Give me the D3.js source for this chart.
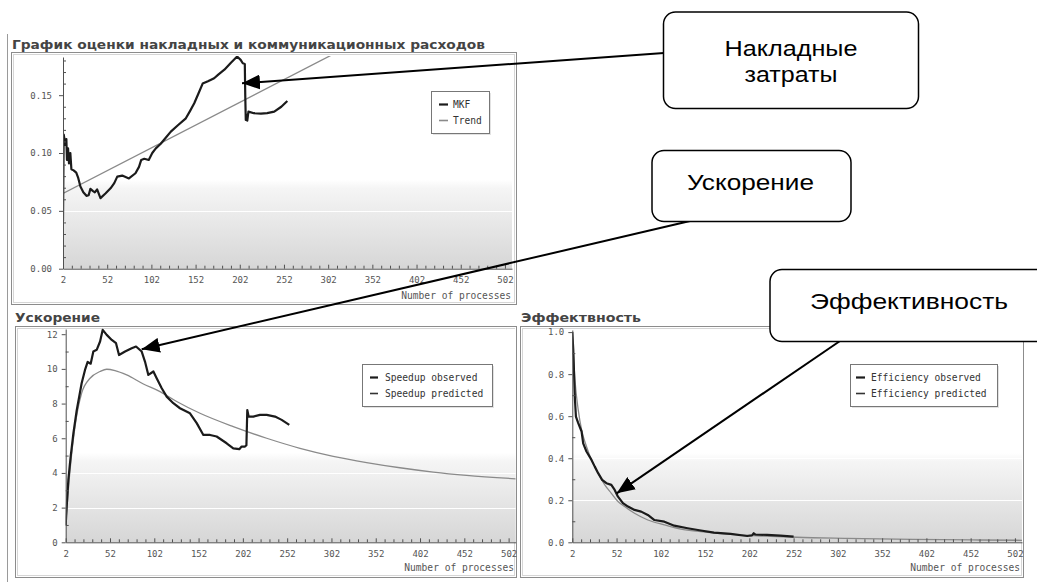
<!DOCTYPE html>
<html>
<head>
<meta charset="utf-8">
<script src="https://cdn.jsdelivr.net/npm/d3@7"></script>
<style>
  html, body { margin: 0; padding: 0; background: #fff; }
  svg { display: block; }
</style>
</head>
<body>
<script>
// ---------------- DATA ----------------
const xTickValues = [2, 52, 102, 152, 202, 252, 302, 352, 402, 452, 502];
const xLabel = "Number of processes";

// Chart 1: overhead estimate (MKF) + trend
const overheadTitle = "График оценки накладных и коммуникационных расходов";
const overheadTicks = [0, 0.05, 0.10, 0.15];
const mkfX = [2, 2.8, 4.7, 5.8, 6.5, 7.7, 8.8, 10.3, 11.5, 14, 17, 19, 21.7, 25, 28.5, 31, 33, 36, 38, 40.6, 44.4, 50, 55.8, 60, 63.4, 69, 76.6, 84, 88, 90.5, 94, 99, 103, 107, 112.6, 118, 124, 132, 141, 145.5, 150.5, 155, 160, 166, 173, 178, 184.6, 192, 199, 203, 205.4, 207.7, 208.2, 208.8, 209.8, 210.5, 211.8, 218, 226, 233, 241, 249, 255.8];
const mkfY = [0.041, 0.116, 0.107, 0.112, 0.094, 0.104, 0.091, 0.100, 0.086, 0.085, 0.083, 0.079, 0.071, 0.066, 0.063, 0.0635, 0.069, 0.067, 0.066, 0.0686, 0.061, 0.065, 0.0695, 0.074, 0.0796, 0.0805, 0.078, 0.0825, 0.088, 0.094, 0.095, 0.094, 0.100, 0.104, 0.108, 0.113, 0.1185, 0.124, 0.130, 0.136, 0.143, 0.151, 0.160, 0.162, 0.1646, 0.168, 0.172, 0.178, 0.1834, 0.1805, 0.1776, 0.177, 0.150, 0.1286, 0.133, 0.128, 0.1358, 0.1344, 0.134, 0.1345, 0.1358, 0.140, 0.145];
const trendX = [2, 502];
const trendY = [0.065, 0.262];
const overheadLegend = ["MKF", "Trend"];

// Chart 2: speedup
const speedupTitle = "Ускорение";
const speedupTicks = [0, 2, 4, 6, 8, 10, 12];
const spObsX = [2, 3.1, 5, 7.6, 10.7, 14.4, 20, 23.8, 26.8, 30.2, 33.2, 37, 40.8, 43.8, 48.3, 54, 58.8, 62.2, 69, 76.5, 81.4, 87.8, 91.5, 95.3, 101, 104.7, 110.4, 116, 123.5, 131, 142.3, 149.9, 157.4, 165, 172.4, 183.7, 191.2, 198, 200.6, 204.4, 206, 207, 208.5, 213.8, 221.3, 228.9, 238.3, 245.8, 254.4];
const spObsY = [1.0, 2.06, 3.6, 4.94, 6.3, 7.6, 9.17, 9.94, 10.4, 10.3, 11.0, 11.1, 11.58, 12.25, 11.96, 11.67, 11.48, 10.8, 11.0, 11.19, 11.29, 11.0, 10.42, 9.65, 9.85, 9.46, 8.88, 8.4, 8.02, 7.73, 7.44, 6.87, 6.19, 6.19, 6.1, 5.71, 5.42, 5.37, 5.52, 5.52, 5.6, 7.63, 7.25, 7.25, 7.35, 7.35, 7.25, 7.06, 6.77];
const spPredX = [2, 6.9, 12.5, 20, 29.5, 40.8, 48.3, 57.7, 70.8, 89.7, 108.5, 127.3, 153.6, 191.2, 228.9, 266.5, 304, 341.7, 379.3, 417, 454.6, 510];
const spPredY = [1.0, 4.17, 6.67, 8.6, 9.46, 9.85, 9.98, 9.9, 9.65, 9.13, 8.69, 8.12, 7.44, 6.67, 6.0, 5.42, 4.96, 4.6, 4.3, 4.05, 3.86, 3.66];
const speedupLegend = ["Speedup observed", "Speedup predicted"];

// Chart 3: efficiency
const efficiencyTitle = "Эффектвность";
const efficiencyTicks = [0, 0.2, 0.4, 0.6, 0.8, 1.0];
const efObsX = [2, 3.1, 4.2, 5, 6.1, 8.7, 12.5, 14.3, 18, 23.7, 27.4, 31.2, 35.7, 40.5, 46.1, 49.9, 53.6, 59.2, 64.9, 72.3, 79.8, 87.3, 94.8, 106, 117.2, 132.2, 147.2, 162.1, 180.8, 199.5, 205, 207, 208.9, 222, 237, 252];
const efObsY = [1.0, 0.916, 0.773, 0.678, 0.598, 0.567, 0.527, 0.471, 0.432, 0.392, 0.36, 0.329, 0.297, 0.281, 0.273, 0.249, 0.217, 0.186, 0.170, 0.154, 0.146, 0.130, 0.106, 0.098, 0.079, 0.067, 0.056, 0.046, 0.040, 0.030, 0.033, 0.043, 0.037, 0.035, 0.032, 0.027];
const efPredX = [2, 5, 8.7, 12.5, 18, 23.7, 31.2, 38.7, 46.1, 53.6, 61.1, 72.3, 87.3, 106, 124.7, 147, 180.8, 218, 255.6, 311.8, 386.6, 461.4, 510];
const efPredY = [1.0, 0.773, 0.63, 0.535, 0.456, 0.392, 0.329, 0.273, 0.233, 0.194, 0.170, 0.138, 0.106, 0.083, 0.063, 0.051, 0.038, 0.030, 0.024, 0.019, 0.014, 0.011, 0.0095];
const efficiencyLegend = ["Efficiency observed", "Efficiency predicted"];

// Callouts
const calloutOverhead = ["Накладные", "затраты"];
const calloutSpeedup = ["Ускорение"];
const calloutEfficiency = ["Эффективность"];

// ---------------- DRAWING ----------------
const W = 1037, H = 582;
const svg = d3.select("body").append("svg").attr("width", W).attr("height", H)
  .style("font-family", "'DejaVu Sans Mono', monospace");
svg.append("rect").attr("width", W).attr("height", H).attr("fill", "#fff");

const defs = svg.append("defs");
const grad = defs.append("linearGradient").attr("id", "plotbg")
  .attr("x1", 0).attr("y1", 0).attr("x2", 0).attr("y2", 1);
grad.append("stop").attr("offset", "0").attr("stop-color", "#ffffff");
grad.append("stop").attr("offset", "0.58").attr("stop-color", "#ffffff");
grad.append("stop").attr("offset", "0.62").attr("stop-color", "#f5f5f5");
grad.append("stop").attr("offset", "1").attr("stop-color", "#d6d6d6");

const marker = defs.append("marker").attr("id", "arrowhead")
  .attr("markerUnits", "userSpaceOnUse")
  .attr("markerWidth", 19).attr("markerHeight", 15)
  .attr("refX", 18).attr("refY", 7.5).attr("orient", "auto");
marker.append("path").attr("d", "M0,0 L18,7.5 L0,15 Z").attr("fill", "#000");

// page left rule
svg.append("line").attr("x1", 7.5).attr("x2", 7.5).attr("y1", 34).attr("y2", 582)
  .attr("stroke", "#9a9a9a").attr("stroke-width", 1);

function pairs(xs, ys) { return xs.map((v, i) => [v, ys[i]]); }

function drawChart(cfg) {
  const g = svg.append("g");
  const f = cfg.frame;
  // title
  g.append("text").attr("x", cfg.titlePos[0]).attr("y", cfg.titlePos[1])
    .attr("font-family", "'DejaVu Sans', sans-serif").attr("font-weight", "bold")
    .attr("font-size", 13).attr("fill", "#444")
    .attr("textLength", cfg.titleWidth).attr("lengthAdjust", "spacingAndGlyphs")
    .text(cfg.title);
  // frame (double)
  g.append("rect").attr("x", f[0] + 0.5).attr("y", f[1] + 0.5).attr("width", f[2] - f[0]).attr("height", f[3] - f[1])
    .attr("fill", "#fff").attr("stroke", "#8c8c8c");
  g.append("rect").attr("x", f[0] + 2.5).attr("y", f[1] + 2.5).attr("width", f[2] - f[0] - 4).attr("height", f[3] - f[1] - 4)
    .attr("fill", "none").attr("stroke", "#d6d6d6");

  const x = d3.scaleLinear().domain([2, 510]).range(cfg.xRange);
  const y = d3.scaleLinear().domain(cfg.yDomain).range(cfg.yRange);

  // plot background
  g.append("rect").attr("x", cfg.xRange[0]).attr("y", cfg.yRange[1])
    .attr("width", cfg.xRange[1] - cfg.xRange[0]).attr("height", cfg.yRange[0] - cfg.yRange[1])
    .attr("fill", "url(#plotbg)");
  // white grid lines
  g.append("g").selectAll("line").data(cfg.yTicks.filter(d => d > 0)).join("line")
    .attr("x1", cfg.xRange[0]).attr("x2", cfg.xRange[1])
    .attr("y1", d => Math.round(y(d)) + 0.5).attr("y2", d => Math.round(y(d)) + 0.5)
    .attr("stroke", "#fff").attr("stroke-width", 1.2);

  // clip
  const clipId = "clip" + cfg.id;
  defs.append("clipPath").attr("id", clipId).append("rect")
    .attr("x", cfg.xRange[0]).attr("y", cfg.yRange[1] - 1)
    .attr("width", cfg.xRange[1] - cfg.xRange[0]).attr("height", cfg.yRange[0] - cfg.yRange[1] + 1);

  const line = d3.line().x(d => x(d[0])).y(d => y(d[1]));
  const smooth = d3.line().x(d => x(d[0])).y(d => y(d[1])).curve(d3.curveMonotoneX);
  const lg = g.append("g").attr("clip-path", `url(#${clipId})`);
  lg.append("path").datum(cfg.series2).attr("d", smooth)
    .attr("fill", "none").attr("stroke", "#8a8a8a").attr("stroke-width", 1.3);
  lg.append("path").datum(cfg.series1).attr("d", line)
    .attr("fill", "none").attr("stroke", "#1b1b1b").attr("stroke-width", 2.2)
    .attr("stroke-linejoin", "round");

  // x axis
  const xMinor = d3.range(12, 510, 10).filter(v => !xTickValues.includes(v));
  g.append("g").attr("transform", `translate(0,${cfg.yRange[0]})`)
    .call(d3.axisBottom(x).tickValues(xTickValues).tickFormat(d3.format("d"))
      .tickSize(-4).tickSizeOuter(0).tickPadding(8));
  g.append("g").attr("transform", `translate(0,${cfg.yRange[0]})`)
    .call(d3.axisBottom(x).tickValues(xMinor).tickFormat("").tickSize(-3).tickSizeOuter(0))
    .call(s => s.select(".domain").remove());
  // y axis
  g.append("g").attr("transform", `translate(${cfg.xRange[0]},0)`)
    .call(d3.axisLeft(y).tickValues(cfg.yTicks).tickFormat(d3.format(cfg.yFormat))
      .tickSize(4).tickSizeOuter(0).tickPadding(cfg.yPad));
  g.append("g").attr("transform", `translate(${cfg.xRange[0]},0)`)
    .call(d3.axisRight(y).tickValues(cfg.yMinor).tickFormat("").tickSize(3).tickSizeOuter(0))
    .call(s => s.select(".domain").remove());

  g.selectAll(".domain").attr("stroke", "#505050");
  g.selectAll(".tick line").attr("stroke", "#505050");
  g.selectAll(".tick text").attr("fill", "#555").attr("font-size", 9)
    .attr("font-family", "'DejaVu Sans Mono', monospace");

  // axis label
  g.append("text").attr("x", cfg.xLabelPos[0]).attr("y", cfg.xLabelPos[1])
    .attr("text-anchor", "end").attr("font-size", 9.6).attr("fill", "#555")
    .text(xLabel);

  // legend
  const L = cfg.legend;
  g.append("rect").attr("x", L.box[0] + 2).attr("y", L.box[1] + 2).attr("width", L.box[2]).attr("height", L.box[3])
    .attr("fill", "#e2e2e2");
  g.append("rect").attr("x", L.box[0] + 0.5).attr("y", L.box[1] + 0.5).attr("width", L.box[2]).attr("height", L.box[3])
    .attr("fill", "#fff").attr("stroke", "#777");
  L.labels.forEach((t, i) => {
    const yy = L.box[1] + 13 + i * 16;
    g.append("line").attr("x1", L.box[0] + L.sw[0]).attr("x2", L.box[0] + L.sw[1])
      .attr("y1", yy + 0.5).attr("y2", yy + 0.5)
      .attr("stroke", i === 0 ? "#1b1b1b" : L.c2).attr("stroke-width", i === 0 ? 2.2 : 1.6);
    g.append("text").attr("x", L.box[0] + L.tx).attr("y", yy + 3.5)
      .attr("font-size", 9.6).attr("fill", "#333").text(t);
  });
}

drawChart({
  id: 1, title: overheadTitle, titlePos: [12, 48.5], titleWidth: 473,
  frame: [11, 52, 516, 304],
  xRange: [63, 512], yDomain: [0, 0.183], yRange: [268.7, 57],
  yTicks: overheadTicks, yFormat: ".2f", yPad: 7,
  yMinor: d3.range(1, 19).map(v => v / 100).filter(v => v % 0.05 > 0.001 && v % 0.05 < 0.049),
  series1: pairs(mkfX, mkfY), series2: pairs(trendX, trendY),
  xLabelPos: [511, 298.5],
  legend: { box: [431, 91, 58, 42], labels: overheadLegend, sw: [8, 17], tx: 22, c2: "#8a8a8a" }
});

drawChart({
  id: 2, title: speedupTitle, titlePos: [15, 321.5], titleWidth: 85,
  frame: [15, 326, 516, 577],
  xRange: [65.7, 515.7], yDomain: [0, 12.3], yRange: [542.3, 329],
  yTicks: speedupTicks, yFormat: "d", yPad: 4,
  yMinor: [1, 3, 5, 7, 9, 11],
  series1: pairs(spObsX, spObsY), series2: pairs(spPredX, spPredY),
  xLabelPos: [514, 571],
  legend: { box: [362, 364, 130, 42], labels: speedupLegend, sw: [8, 16], tx: 23, c2: "#333" }
});

drawChart({
  id: 3, title: efficiencyTitle, titlePos: [521, 321.5], titleWidth: 120,
  frame: [520, 326, 1023, 577],
  xRange: [572.3, 1022], yDomain: [0, 1.01], yRange: [542.3, 330],
  yTicks: efficiencyTicks, yFormat: ".1f", yPad: 4,
  yMinor: [0.1, 0.3, 0.5, 0.7, 0.9],
  series1: pairs(efObsX, efObsY), series2: pairs(efPredX, efPredY),
  xLabelPos: [1020, 571],
  legend: { box: [850, 364, 147, 42], labels: efficiencyLegend, sw: [6, 15], tx: 21, c2: "#333" }
});

// ---------------- CALLOUTS ----------------
function arrow(x1, y1, x2, y2) {
  svg.append("line").attr("x1", x1).attr("y1", y1).attr("x2", x2).attr("y2", y2)
    .attr("stroke", "#000").attr("stroke-width", 2).attr("marker-end", "url(#arrowhead)");
}
arrow(664, 53, 242, 83.3);
arrow(690, 221, 141.7, 349.3);
arrow(840, 341, 616.7, 493.3);

function callout(x0, y0, x1, y1, lines, cx, baselines, widths) {
  svg.append("rect").attr("x", x0).attr("y", y0).attr("width", x1 - x0).attr("height", y1 - y0)
    .attr("rx", 12).attr("ry", 12).attr("fill", "#fff").attr("stroke", "#000").attr("stroke-width", 1.5);
  lines.forEach((t, i) => {
    svg.append("text").attr("x", cx).attr("y", baselines[i]).attr("text-anchor", "middle")
      .attr("font-family", "'Liberation Sans', Arial, sans-serif").attr("font-size", 22).attr("fill", "#000")
      .attr("textLength", widths[i]).attr("lengthAdjust", "spacingAndGlyphs")
      .text(t);
  });
}
callout(663.5, 12, 918.5, 108.5, calloutOverhead, 791, [55.5, 82], [133, 93]);
callout(652, 150.5, 851, 221.5, calloutSpeedup, 750.5, [190], [127]);
callout(770, 269.5, 1050, 341.5, calloutEfficiency, 909, [309], [198]);
</script>
</body>
</html>
